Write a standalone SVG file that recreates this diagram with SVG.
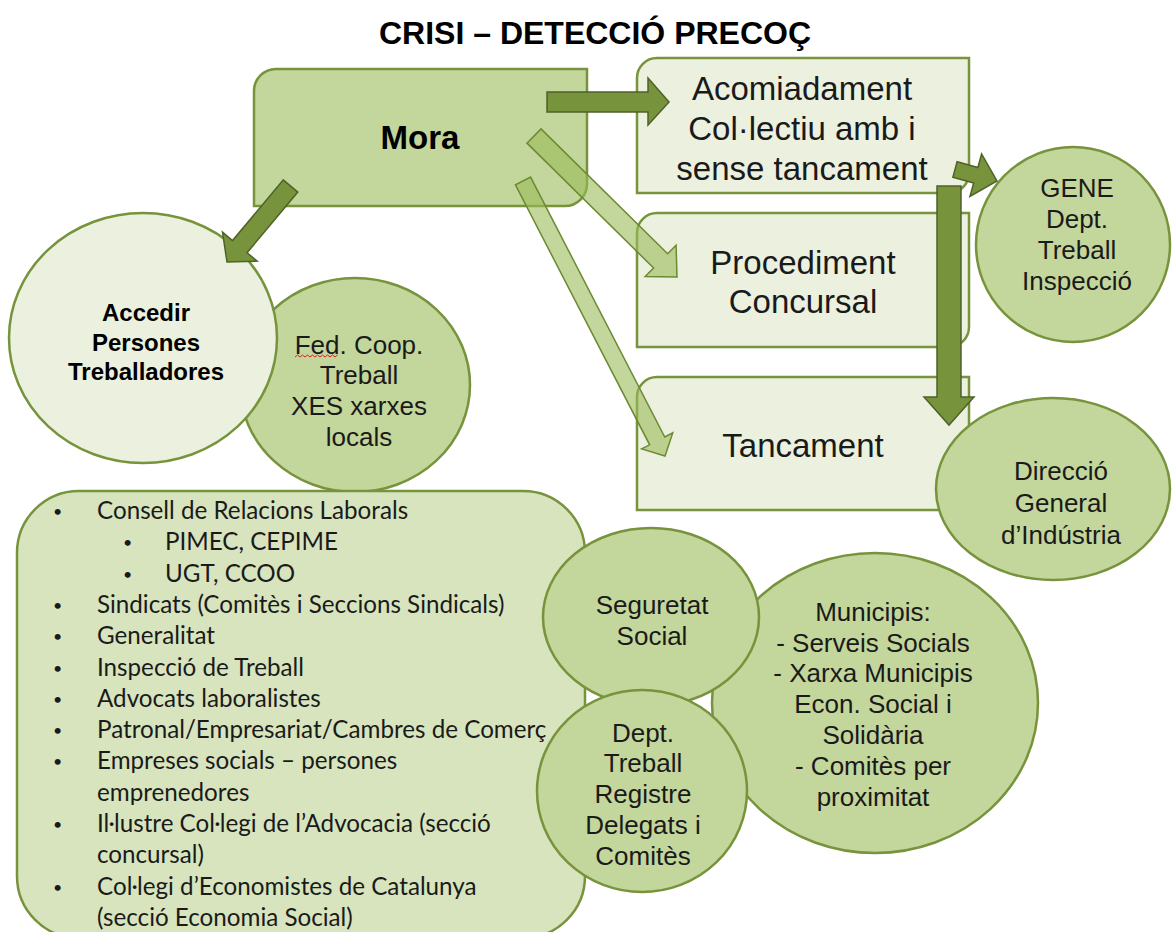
<svg xmlns="http://www.w3.org/2000/svg" width="1173" height="932" viewBox="0 0 1173 932">
<style>
.bg{fill:#ffffff}
.node{stroke:#77933c;stroke-width:2.5}
.mid{fill:#c3d69b}
.pale{fill:#ebf1de}
.list{fill:#d7e4bd}
.t{font-family:"Liberation Sans",Arial,sans-serif;fill:#1a1a1a;text-anchor:middle}
.b{font-weight:bold;fill:#000}
.l{font-family:Lato,"Liberation Sans",sans-serif;fill:#1a1a1a;font-size:24.2px}
.bu{font-size:16px}
.dark{fill:#77933c;stroke:#4f6228;stroke-width:1.5;stroke-linejoin:miter}
.light{fill:#9bbb59;fill-opacity:0.6;stroke:#6b8a32;stroke-width:1.5}
</style>
<rect class="bg" x="0" y="0" width="1173" height="932"/>
<text class="t b" x="595" y="44" font-size="32">CRISI – DETECCIÓ PRECOÇ</text>

<g id="mora">
<path class="node mid" d="M276 69 H587 V184 A22 22 0 0 1 565 206 H254 V91 A22 22 0 0 1 276 69 Z"/>
<text class="t b" x="420" y="149" font-size="33">Mora</text>
</g>

<g id="acomiadament">
<path class="node pale" d="M657 58 H969 V173 A20 20 0 0 1 949 193 H637 V78 A20 20 0 0 1 657 58 Z"/>
<text class="t" x="802" y="99.5" font-size="33">Acomiadament</text>
<text class="t" x="802" y="139.5" font-size="33">Col·lectiu amb i</text>
<text class="t" x="802" y="179.5" font-size="33">sense tancament</text>
</g>

<g id="procediment">
<path class="node pale" d="M657 213 H969 V327 A20 20 0 0 1 949 347 H637 V233 A20 20 0 0 1 657 213 Z"/>
<text class="t" x="803" y="273.5" font-size="33">Procediment</text>
<text class="t" x="803" y="312.5" font-size="33">Concursal</text>
</g>

<g id="tancament">
<path class="node pale" d="M657 377 H969 V490 A20 20 0 0 1 949 510 H637 V397 A20 20 0 0 1 657 377 Z"/>
<text class="t" x="803" y="456.5" font-size="33">Tancament</text>
</g>

<g id="gene">
<ellipse class="node mid" cx="1073" cy="244.5" rx="97" ry="97.5"/>
<text class="t" x="1077" y="197" font-size="26">GENE</text>
<text class="t" x="1077" y="228" font-size="26">Dept.</text>
<text class="t" x="1077" y="259" font-size="26">Treball</text>
<text class="t" x="1077" y="290" font-size="26">Inspecció</text>
</g>

<g id="fed">
<ellipse class="node mid" cx="355" cy="385" rx="115" ry="107"/>
<text class="t" x="359" y="354" font-size="26">Fed. Coop.</text>
<text class="t" x="359" y="384" font-size="26">Treball</text>
<text class="t" x="359" y="415" font-size="26">XES xarxes</text>
<text class="t" x="359" y="446" font-size="26">locals</text>
<path d="M295 357 l2.5 -2 l2.5 2 l2.5 -2 l2.5 2 l2.5 -2 l2.5 2 l2.5 -2 l2.5 2 l2.5 -2 l2.5 2 l2.5 -2 l2.5 2 l2.5 -2 l2.5 2 l2.5 -2 l2.5 2 l2.5 -2" fill="none" stroke="#e02020" stroke-width="1"/>
</g>

<g id="accedir">
<ellipse class="node pale" cx="143" cy="338" rx="134" ry="125"/>
<text class="t b" x="146" y="321" font-size="24">Accedir</text>
<text class="t b" x="146" y="351" font-size="24">Persones</text>
<text class="t b" x="146" y="380" font-size="24">Treballadores</text>
</g>

<g id="llista">
<rect class="node list" x="17" y="491" width="568" height="447" rx="62" ry="62"/>
<g class="l">
<text class="bu" x="53" y="517">•</text><text x="97" y="519">Consell de Relacions Laborals</text>
<text class="bu" x="123" y="548.3">•</text><text x="165" y="550.3">PIMEC, CEPIME</text>
<text class="bu" x="123" y="579.6">•</text><text x="165" y="581.6">UGT, CCOO</text>
<text class="bu" x="53" y="610.9">•</text><text x="97" y="612.9">Sindicats (Comitès i Seccions Sindicals)</text>
<text class="bu" x="53" y="642.2">•</text><text x="97" y="644.2">Generalitat</text>
<text class="bu" x="53" y="673.5">•</text><text x="97" y="675.5">Inspecció de Treball</text>
<text class="bu" x="53" y="704.8">•</text><text x="97" y="706.8">Advocats laboralistes</text>
<text class="bu" x="53" y="736.1">•</text><text x="97" y="738.1">Patronal/Empresariat/Cambres de Comerç</text>
<text class="bu" x="53" y="767.4">•</text><text x="97" y="769.4">Empreses socials – persones</text>
<text x="97" y="800.7">emprenedores</text>
<text class="bu" x="53" y="830">•</text><text x="97" y="832">Il·lustre Col·legi de l’Advocacia (secció</text>
<text x="97" y="863.3">concursal)</text>
<text class="bu" x="53" y="892.6">•</text><text x="97" y="894.6">Col·legi d’Economistes de Catalunya</text>
<text x="97" y="925.9">(secció Economia Social)</text>
</g>
</g>

<g id="municipis">
<ellipse class="node mid" cx="875" cy="703" rx="163" ry="150"/>
<text class="t" x="873" y="621" font-size="26">Municipis:</text>
<text class="t" x="873" y="651.5" font-size="26">- Serveis Socials</text>
<text class="t" x="873" y="682" font-size="26">- Xarxa Municipis</text>
<text class="t" x="873" y="712.5" font-size="26">Econ. Social i</text>
<text class="t" x="873" y="744" font-size="26">Solidària</text>
<text class="t" x="873" y="775" font-size="26">- Comitès per</text>
<text class="t" x="873" y="806" font-size="26">proximitat</text>
</g>

<g id="direccio">
<ellipse class="node mid" cx="1053" cy="489" rx="117" ry="91"/>
<text class="t" x="1061" y="480" font-size="26">Direcció</text>
<text class="t" x="1061" y="512" font-size="26">General</text>
<text class="t" x="1061" y="544" font-size="26">d’Indústria</text>
</g>

<g id="seguretat">
<ellipse class="node mid" cx="651" cy="617" rx="108" ry="89"/>
<text class="t" x="652" y="614" font-size="26">Seguretat</text>
<text class="t" x="652" y="645" font-size="26">Social</text>
</g>

<g id="dept">
<ellipse class="node mid" cx="642" cy="791" rx="105" ry="101"/>
<text class="t" x="643" y="742" font-size="26">Dept.</text>
<text class="t" x="643" y="772" font-size="26">Treball</text>
<text class="t" x="643" y="803" font-size="26">Registre</text>
<text class="t" x="643" y="834" font-size="26">Delegats i</text>
<text class="t" x="643" y="865" font-size="26">Comitès</text>
</g>

<g id="connectors">
<polygon class="dark" points="547,92 648,92 648,78 669,102 648,125 648,112 547,112"/>
<polygon class="dark" points="283.2,179.9 232.5,240.6 222.5,232.2 227,262 257.1,261.1 247.1,252.7 297.8,192.1"/>
<polygon class="light" points="526.98,143.12 653.6,267.97 645.17,276.52 677,277 676.07,245.18 667.64,253.73 541.02,128.88"/>
<polygon class="light" points="515.45,184.9 649.65,444.8 641.65,448.93 665,456 672.75,432.87 664.75,437 530.55,177.1"/>
<polygon class="dark" points="952.89,177.22 973.67,182.91 969.97,196.41 997,181 981.59,153.97 977.89,167.47 957.11,161.78"/>
<polygon class="dark" points="937,186 961,186 961,397 974,397 949,425 924,397 937,397"/>
</g>
</svg>
